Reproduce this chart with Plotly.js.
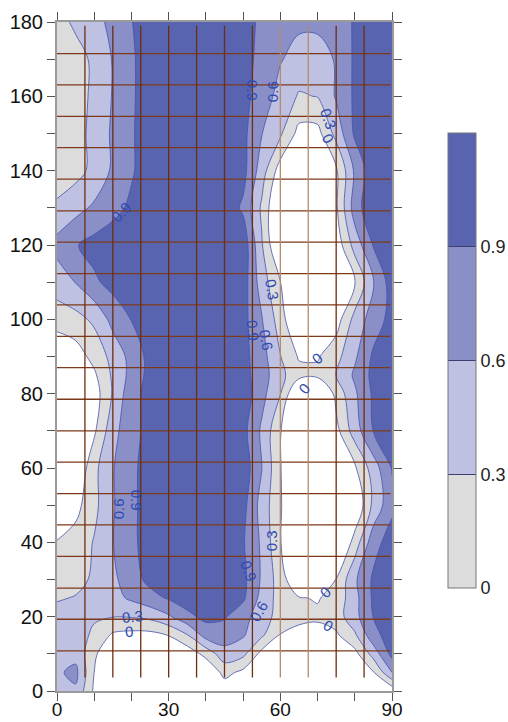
<!DOCTYPE html>
<html>
<head>
<meta charset="utf-8">
<script src="https://cdn.plot.ly/plotly-3.0.1.min.js"></script>
<style>
html,body{margin:0;padding:0;background:#fff;}
#chart{width:508px;height:722px;}
</style>
</head>
<body>
<div id="chart"></div>
<script>
// ---- grid coordinates ----
const xVals = [0,5,10,15,20,25,30,35,40,45,50,55,60,65,70,75,80,85,90];
const yVals = [0,5,10,15,20,25,30,40,50,60,70,80,85,90,100,110,120,130,140,150,160,170,180];

// ---- z values, one row per y (x = 0..90 step 5) ----
const z_y000 = [0.5,0.55,-0.05,-0.5,-0.6,-0.6,-0.6,-0.6,-0.5,-0.2,-0.4,-0.6,-0.6,-0.6,-0.6,-0.6,-0.5,-0.3,-0.2];
const z_y005 = [0.55,0.68,0.0,-0.45,-0.55,-0.55,-0.55,-0.5,-0.3,0.1,-0.08,-0.45,-0.55,-0.6,-0.6,-0.55,-0.35,-0.02,0.6];
const z_y010 = [0.52,0.5,0.08,-0.4,-0.5,-0.5,-0.4,-0.2,0.1,0.48,0.38,-0.1,-0.4,-0.5,-0.5,-0.4,-0.1,0.42,1.0];
const z_y015 = [0.48,0.42,0.25,-0.05,-0.1,-0.1,0.01,0.28,0.72,0.75,0.63,0.35,-0.02,-0.1,-0.12,-0.05,0.25,0.8,1.05];
const z_y020 = [0.42,0.4,0.33,0.31,0.32,0.38,0.56,0.82,0.98,0.93,0.72,0.42,0.2,0.08,0.05,0.15,0.5,0.91,1.05];
const z_y025 = [0.27,0.32,0.4,0.5,0.65,0.8,0.93,1.05,1.1,1.08,0.95,0.5,0.18,0.02,-0.02,0.1,0.5,0.95,1.1];
const z_y030 = [0.15,0.2,0.35,0.53,0.78,0.98,1.1,1.1,1.1,1.1,0.98,0.56,0.15,-0.3,-0.35,0.01,0.55,0.95,1.1];
const z_y040 = [0.03,0.12,0.32,0.59,0.85,1.0,1.1,1.1,1.1,1.1,0.93,0.55,0.02,-0.5,-0.6,-0.5,0.13,0.78,1.05];
const z_y050 = [-0.5,-0.1,0.22,0.57,0.85,1.0,1.1,1.1,1.1,1.1,1.0,0.48,0.04,-0.5,-0.6,-0.6,-0.3,0.38,0.82];
const z_y060 = [-0.6,-0.3,0.22,0.58,0.85,1.0,1.1,1.1,1.1,1.1,1.08,0.61,0.02,-0.5,-0.6,-0.5,-0.05,0.45,0.92];
const z_y070 = [-0.6,-0.5,-0.05,0.5,0.8,1.0,1.1,1.1,1.1,1.1,1.0,0.55,0.02,-0.5,-0.6,-0.1,0.45,0.91,1.05];
const z_y080 = [-0.6,-0.55,-0.15,0.33,0.8,1.0,1.1,1.1,1.1,1.1,1.08,0.7,0.31,-0.4,-0.5,0.1,0.55,0.95,1.1];
const z_y085 = [-0.35,-0.25,-0.05,0.35,0.7,1.0,1.1,1.1,1.1,1.1,1.0,0.75,0.38,0.1,0.08,0.31,0.65,0.98,1.1];
const z_y090 = [-0.3,-0.15,0.1,0.4,0.7,1.0,1.1,1.1,1.1,1.1,1.0,0.72,0.31,-0.03,-0.03,0.2,0.55,0.95,1.1];
const z_y100 = [0.15,0.2,0.36,0.7,0.91,1.05,1.1,1.1,1.1,1.1,1.0,0.62,0.15,-0.4,-0.5,-0.15,0.4,0.75,1.0];
const z_y110 = [0.44,0.61,0.85,1.0,1.1,1.1,1.1,1.1,1.1,1.1,1.05,0.45,0.01,-0.5,-0.5,-0.4,-0.01,0.59,1.05];
const z_y120 = [0.7,0.88,1.0,1.05,1.1,1.1,1.1,1.1,1.1,1.1,1.1,0.33,-0.4,-0.5,-0.5,-0.2,0.42,0.92,1.05];
const z_y130 = [0.35,0.5,0.65,0.82,0.95,1.05,1.1,1.1,1.1,1.1,0.85,0.25,-0.4,-0.5,-0.5,-0.05,0.75,1.15,1.15];
const z_y140 = [0.15,0.2,0.38,0.65,0.87,1.05,1.1,1.1,1.1,1.1,1.0,0.45,-0.15,-0.4,-0.4,-0.05,0.65,1.1,1.1];
const z_y150 = [0.15,0.2,0.38,0.65,0.87,1.05,1.1,1.1,1.1,1.1,0.98,0.61,0.35,-0.1,-0.1,0.4,0.95,1.05,1.1];
const z_y160 = [0.15,0.2,0.35,0.62,0.86,1.05,1.1,1.1,1.1,1.1,1.0,0.75,0.5,0.27,0.31,0.63,0.95,1.05,1.1];
const z_y170 = [0.15,0.2,0.35,0.62,0.86,1.05,1.1,1.1,1.1,1.1,1.0,0.82,0.62,0.5,0.5,0.62,0.95,1.05,1.1];
const z_y180 = [0.2,0.35,0.5,0.68,0.89,1.05,1.1,1.1,1.1,1.1,1.0,0.85,0.7,0.65,0.65,0.75,0.93,1.05,1.1];

const zGrid = [z_y000,z_y005,z_y010,z_y015,z_y020,z_y025,z_y030,z_y040,z_y050,z_y060,z_y070,
               z_y080,z_y085,z_y090,z_y100,z_y110,z_y120,z_y130,z_y140,z_y150,z_y160,z_y170,z_y180];

// ---- contour levels / colour bar ----
const levelStart = 0, levelEnd = 0.9, levelStep = 0.3;
const cbTickVals = [0, 0.3, 0.6, 0.9];
const cbTickText = ['0', '0.3', '0.6', '0.9'];
const cbMax = 1.2;

// ---- mesh lines ----
const meshX = [7.5,15,22.5,30,37.5,45,52.5,60,67.5,75,82.5];
const meshXLight = [60,67.5];
const meshY = [171.5,163.1,154.6,146.2,137.7,129.2,120.8,112.3,103.9,95.4,87.0,78.5,70.0,61.6,53.1,44.7,36.2,27.7,19.3,10.8];
const meshYSpan = [3.6,179];
const meshXSpan = [0,89.6];

// ---- contour labels ----
const labelText = ['0.9','0.9','0.6','0.3','0','0.3','0.9','0.6','0','0','0.6','0.9','0.3','0.9','0.6','0.3','0','0','0'];
const labelX = [17.4,52.7,58.1,72.9,72.9,57.7,52.7,56.3,69.8,66.4,16.5,21.4,57.7,51.4,54.1,20.3,19.4,72.0,72.9];
const labelY = [128.9,161.7,161.2,154.0,148.7,107.9,97.1,94.4,89.5,81.4,49.0,51.3,40.5,32.3,21.5,20.0,15.9,26.6,17.5];
const labelAngle = [-45,90,-90,70,60,80,85,80,-40,-50,-90,90,-90,70,-60,-5,-5,-45,30];

// colours
const cWhite = '#ffffff', cGray = '#dcdcdc', cLav = '#bfc1e2', cMed = '#8a8fc8', cDark = '#5864b0';
const FONT = 'Liberation Sans, Arial, sans-serif';

const contourTrace = {
  type: 'contour',
  x: xVals, y: yVals, z: zGrid,
  autocontour: false,
  contours: {start: levelStart, end: levelEnd, size: levelStep, coloring: 'fill', showlines: true, showlabels: false},
  colorscale: [[0, cWhite], [0.25, cGray], [0.5, cLav], [0.75, cMed], [1, cDark]],
  line: {color: '#4353a8', width: 0.8, smoothing: 1.0},
  showscale: false,
  hoverinfo: 'skip'
};

// colour bar helper (off-axis, only its colour bar is visible)
const cbScale = [[0, cGray], [0.25, cGray], [0.25, cLav], [0.5, cLav], [0.5, cMed], [0.75, cMed], [0.75, cDark], [1, cDark]];
const cbTrace = {
  type: 'heatmap',
  x: [-60, -50], y: [-60, -50],
  z: [[cbTickVals[0], cbMax], [cbTickVals[0], cbMax]],
  zmin: 0, zmax: cbMax,
  colorscale: cbScale,
  showscale: true,
  hoverinfo: 'skip',
  colorbar: {
    x: 1.167, xanchor: 'left', xpad: 0,
    y: 0.494, yanchor: 'middle', ypad: 0,
    len: 0.68, lenmode: 'fraction',
    thickness: 28, thicknessmode: 'pixels',
    outlinecolor: '#777', outlinewidth: 1,
    tickmode: 'array', tickvals: cbTickVals, ticktext: cbTickText,
    ticks: 'inside', ticklen: 28, tickwidth: 1, tickcolor: '#3a3f70',
    tickfont: {family: FONT, size: 18, color: '#222'}
  }
};

function vLines(xs) {
  const X = [], Y = [];
  xs.forEach(v => { X.push(v, v, null); Y.push(meshYSpan[0], meshYSpan[1], null); });
  return {X, Y};
}
function hLines(ys) {
  const X = [], Y = [];
  ys.forEach(v => { X.push(meshXSpan[0], meshXSpan[1], null); Y.push(v, v, null); });
  return {X, Y};
}
const vDark = vLines(meshX.filter(v => meshXLight.indexOf(v) < 0));
const vLight = vLines(meshXLight);
const hAll = hLines(meshY);

const meshTraces = [
  {type: 'scatter', mode: 'lines', x: hAll.X, y: hAll.Y, line: {color: '#7d3a1b', width: 1.3}, hoverinfo: 'skip', connectgaps: false},
  {type: 'scatter', mode: 'lines', x: vDark.X, y: vDark.Y, line: {color: '#6e2c10', width: 1.3}, hoverinfo: 'skip', connectgaps: false},
  {type: 'scatter', mode: 'lines', x: vLight.X, y: vLight.Y, line: {color: '#b48a6a', width: 1.3}, hoverinfo: 'skip', connectgaps: false}
];

const annotations = labelText.map((t, i) => ({
  x: labelX[i], y: labelY[i], xref: 'x', yref: 'y',
  text: t, showarrow: false, textangle: labelAngle[i],
  font: {family: FONT, size: 15, color: '#2e4bb0'}
}));

const axisCommon = {
  ticks: 'outside', ticklen: 8, tickwidth: 1, tickcolor: '#555',
  showline: true, linecolor: '#9a9a9a', linewidth: 2, mirror: 'ticks',
  showgrid: false, zeroline: false, fixedrange: true,
  tickfont: {family: FONT, size: 20, color: '#111'}
};

const layout = {
  width: 508, height: 722,
  margin: {l: 57, r: 116, t: 22, b: 31, pad: 0, autoexpand: false},
  paper_bgcolor: '#ffffff', plot_bgcolor: '#ffffff',
  showlegend: false,
  xaxis: Object.assign({}, axisCommon, {range: [0, 90], tick0: 0, dtick: 30, ticklabelstandoff: -8,
    tickfont: {family: FONT, size: 19, color: '#111'},
    minor: {dtick: 10, ticks: 'outside', ticklen: 8, tickcolor: '#555', showgrid: false}}),
  yaxis: Object.assign({}, axisCommon, {range: [0, 180], tick0: 0, dtick: 20,
    minor: {dtick: 10, ticks: 'outside', ticklen: 8, tickcolor: '#555', showgrid: false}}),
  annotations: annotations
};

Plotly.newPlot('chart', [contourTrace, cbTrace].concat(meshTraces), layout, {displayModeBar: false, staticPlot: true});
</script>
</body>
</html>
